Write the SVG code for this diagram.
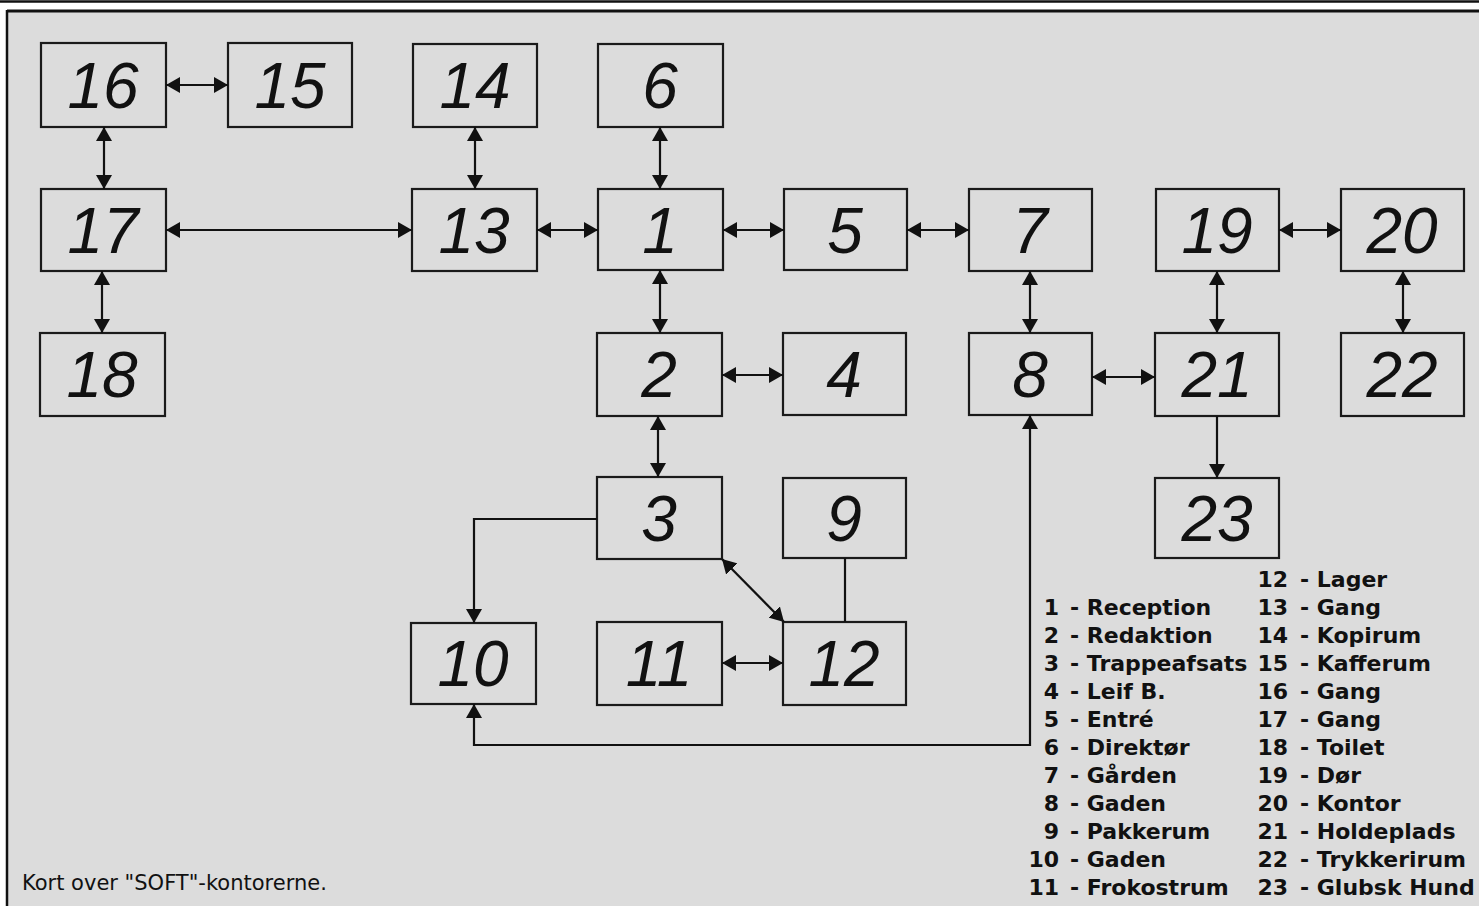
<svg xmlns="http://www.w3.org/2000/svg" width="1479" height="906" viewBox="0 0 1479 906">
<style>
.box rect{fill:none;stroke:#1a1a1a;stroke-width:2.2}
.box text{font-family:"Liberation Sans",Arial,sans-serif;font-style:italic;font-size:64px;fill:#111;text-anchor:middle}
.c path{fill:none;stroke:#111;stroke-width:2.2}
.c .bi{marker-start:url(#ah);marker-end:url(#ah)}
.c .uni{marker-end:url(#ah)}
.lg text{font-family:"DejaVu Sans","Verdana",sans-serif;font-weight:bold;font-size:22px;fill:#111}
.lg .n{text-anchor:end}
.cap{font-family:"DejaVu Sans","Verdana",sans-serif;font-size:21px;fill:#111}
</style>
<defs>
<marker id="ah" viewBox="0 0 14 16" refX="14" refY="8" markerWidth="14" markerHeight="16" markerUnits="userSpaceOnUse" orient="auto-start-reverse">
<path d="M0,0 L14,8 L0,16 z" fill="#111"/>
</marker>
</defs>
<rect x="0" y="0" width="1479" height="906" fill="#ffffff"/>
<rect x="7" y="11" width="1472" height="895" fill="#dcdcdc"/>
<line x1="0" y1="1.5" x2="1479" y2="1.5" stroke="#111" stroke-width="2.5"/>
<line x1="7" y1="11" x2="1479" y2="11" stroke="#111" stroke-width="3"/>
<line x1="7" y1="10" x2="7" y2="906" stroke="#111" stroke-width="2.5"/>

<g id="node16" class="box"><rect x="41" y="43" width="125" height="84"/><text x="103" y="108">16</text></g>
<g id="node15" class="box"><rect x="228" y="43" width="124" height="84"/><text x="290" y="108">15</text></g>
<g id="node14" class="box"><rect x="413" y="44" width="124" height="83"/><text x="475" y="108">14</text></g>
<g id="node6" class="box"><rect x="598" y="44" width="125" height="83"/><text x="660" y="108">6</text></g>
<g id="node17" class="box"><rect x="41" y="189" width="125" height="82"/><text x="103" y="253">17</text></g>
<g id="node13" class="box"><rect x="412" y="189" width="125" height="82"/><text x="474" y="253">13</text></g>
<g id="node1" class="box"><rect x="598" y="189" width="125" height="81"/><text x="660" y="253">1</text></g>
<g id="node5" class="box"><rect x="784" y="189" width="123" height="81"/><text x="845" y="253">5</text></g>
<g id="node7" class="box"><rect x="969" y="189" width="123" height="82"/><text x="1030" y="253">7</text></g>
<g id="node19" class="box"><rect x="1156" y="189" width="123" height="82"/><text x="1217" y="253">19</text></g>
<g id="node20" class="box"><rect x="1341" y="189" width="123" height="82"/><text x="1402" y="253">20</text></g>
<g id="node18" class="box"><rect x="40" y="333" width="125" height="83"/><text x="102" y="397">18</text></g>
<g id="node2" class="box"><rect x="597" y="333" width="125" height="83"/><text x="659" y="397">2</text></g>
<g id="node4" class="box"><rect x="783" y="333" width="123" height="82"/><text x="844" y="397">4</text></g>
<g id="node8" class="box"><rect x="969" y="333" width="123" height="82"/><text x="1030" y="397">8</text></g>
<g id="node21" class="box"><rect x="1155" y="333" width="124" height="83"/><text x="1217" y="397">21</text></g>
<g id="node22" class="box"><rect x="1341" y="333" width="123" height="83"/><text x="1402" y="397">22</text></g>
<g id="node3" class="box"><rect x="597" y="477" width="125" height="82"/><text x="659" y="541">3</text></g>
<g id="node9" class="box"><rect x="783" y="478" width="123" height="80"/><text x="844" y="541">9</text></g>
<g id="node23" class="box"><rect x="1155" y="478" width="124" height="80"/><text x="1217" y="541">23</text></g>
<g id="node10" class="box"><rect x="411" y="623" width="125" height="81"/><text x="473" y="686">10</text></g>
<g id="node11" class="box"><rect x="597" y="622" width="125" height="83"/><text x="659" y="686">11</text></g>
<g id="node12" class="box"><rect x="783" y="622" width="123" height="83"/><text x="844" y="686">12</text></g>

<g id="connectors" class="c">
<path class="bi" d="M166,85 H228"/>
<path class="bi" d="M104,127 V189"/>
<path class="bi" d="M166,230 H412"/>
<path class="bi" d="M102,271 V333"/>
<path class="bi" d="M475,127 V189"/>
<path class="bi" d="M660,127 V189"/>
<path class="bi" d="M537,230 H598"/>
<path class="bi" d="M723,230 H784"/>
<path class="bi" d="M907,230 H969"/>
<path class="bi" d="M660,270 V333"/>
<path class="bi" d="M722,375 H783"/>
<path class="bi" d="M658,416 V477"/>
<path class="uni" d="M597,519 H474 V623"/>
<path class="bi" d="M722,559 L784,622"/>
<path d="M845,558 V622"/>
<path class="bi" d="M722,663 H783"/>
<path class="bi" d="M1030,415 V745 H474 V704"/>
<path class="bi" d="M1030,271 V333"/>
<path class="bi" d="M1092,377 H1155"/>
<path class="bi" d="M1217,271 V333"/>
<path class="bi" d="M1279,230 H1341"/>
<path class="bi" d="M1403,271 V333"/>
<path class="uni" d="M1217,416 V478"/>
</g>

<g id="legend" class="lg">
<text class="n" x="1059" y="615">1</text><text x="1070" y="615">- Reception</text>
<text class="n" x="1059" y="643">2</text><text x="1070" y="643">- Redaktion</text>
<text class="n" x="1059" y="671">3</text><text x="1070" y="671">- Trappeafsats</text>
<text class="n" x="1059" y="699">4</text><text x="1070" y="699">- Leif B.</text>
<text class="n" x="1059" y="727">5</text><text x="1070" y="727">- Entré</text>
<text class="n" x="1059" y="755">6</text><text x="1070" y="755">- Direktør</text>
<text class="n" x="1059" y="783">7</text><text x="1070" y="783">- Gården</text>
<text class="n" x="1059" y="811">8</text><text x="1070" y="811">- Gaden</text>
<text class="n" x="1059" y="839">9</text><text x="1070" y="839">- Pakkerum</text>
<text class="n" x="1059" y="867">10</text><text x="1070" y="867">- Gaden</text>
<text class="n" x="1059" y="895">11</text><text x="1070" y="895">- Frokostrum</text>
<text class="n" x="1288" y="587">12</text><text x="1300" y="587">- Lager</text>
<text class="n" x="1288" y="615">13</text><text x="1300" y="615">- Gang</text>
<text class="n" x="1288" y="643">14</text><text x="1300" y="643">- Kopirum</text>
<text class="n" x="1288" y="671">15</text><text x="1300" y="671">- Kafferum</text>
<text class="n" x="1288" y="699">16</text><text x="1300" y="699">- Gang</text>
<text class="n" x="1288" y="727">17</text><text x="1300" y="727">- Gang</text>
<text class="n" x="1288" y="755">18</text><text x="1300" y="755">- Toilet</text>
<text class="n" x="1288" y="783">19</text><text x="1300" y="783">- Dør</text>
<text class="n" x="1288" y="811">20</text><text x="1300" y="811">- Kontor</text>
<text class="n" x="1288" y="839">21</text><text x="1300" y="839">- Holdeplads</text>
<text class="n" x="1288" y="867">22</text><text x="1300" y="867">- Trykkerirum</text>
<text class="n" x="1288" y="895">23</text><text x="1300" y="895">- Glubsk Hund</text>
</g>
<text class="cap" x="22" y="890">Kort over "SOFT"-kontorerne.</text>
</svg>
